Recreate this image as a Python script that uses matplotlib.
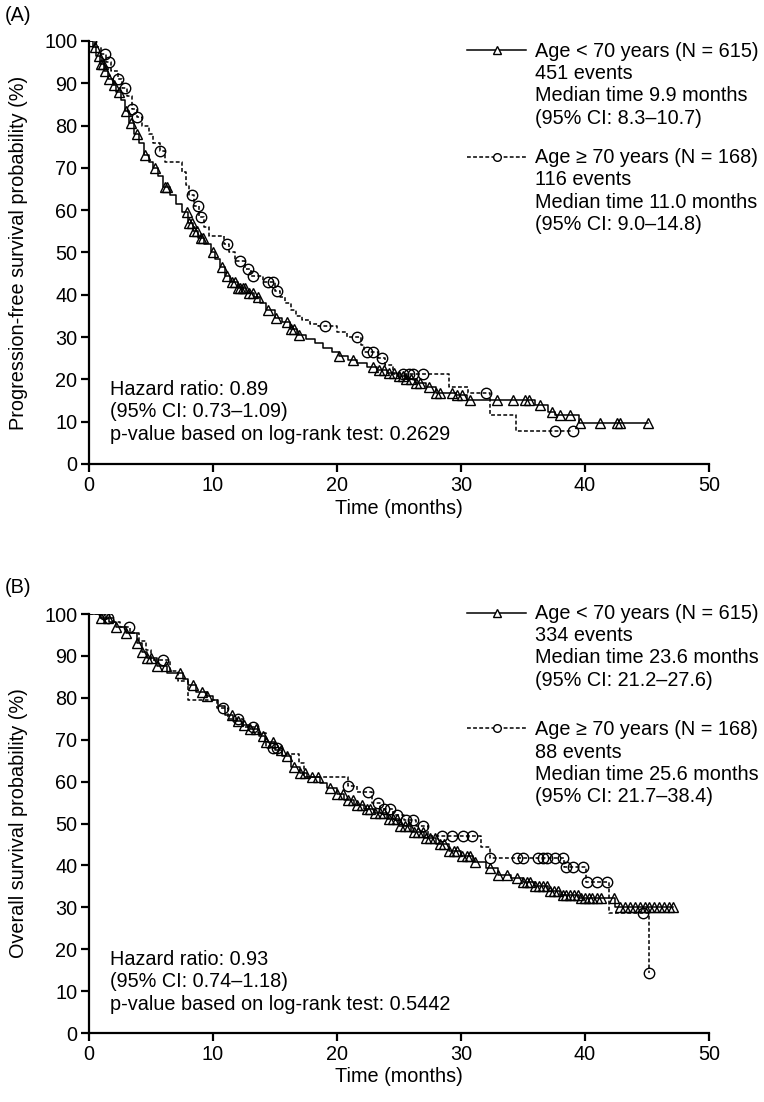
import matplotlib
matplotlib.use("Agg")
import matplotlib.pyplot as plt
import numpy as np

plt.rcParams['font.family'] = ['Liberation Sans', 'DejaVu Sans']
plt.rcParams['font.size'] = 14.3

# ---- (A) progression-free survival: step curves ----
pfs_young_t = [0, 0.3, 0.6, 0.9, 1.2, 1.5, 1.9, 2.2, 2.6, 2.9,
               3.2, 3.6, 4.0, 4.4, 4.8, 5.2, 5.6, 6.0, 6.5, 7.0,
               7.5, 8.0, 8.4, 8.8, 9.3, 9.8, 10.2, 10.6, 11.0, 11.4,
               12.0, 12.7, 13.3, 13.8, 14.3, 15.0, 15.6, 16.2, 16.8, 17.5,
               18.2, 18.9, 19.6, 20.2, 20.9, 21.6, 22.4, 23.2, 24.0, 24.8,
               25.6, 26.4, 27.2, 28.0, 29.6, 30.5, 36.0, 37.0, 37.6, 39.5, 45.1]
pfs_young_s = [100, 98.5, 96.5, 94.5, 93.0, 91.0, 89.5, 88.0, 86.0, 83.5,
               80.5, 78.0, 76.0, 73.0, 71.5, 70.0, 68.0, 65.5, 63.5, 61.5,
               59.5, 57.0, 55.0, 53.5, 52.0, 50.0, 48.5, 46.5, 44.5, 43.0,
               41.5, 40.5, 39.5, 38.0, 36.5, 34.5, 33.5, 32.0, 30.5, 29.5,
               28.5, 27.5, 26.5, 25.5, 24.5, 23.8, 23.0, 22.3, 21.5, 20.8,
               20.0, 19.2, 18.3, 16.8, 16.4, 15.2, 14.0, 12.3, 11.6, 9.6, 9.6]
pfs_young_cens = [0.5, 0.8, 1.0, 1.1, 1.3, 1.6, 2.0, 2.4, 3.0, 3.4, 3.9, 4.5, 5.3,
                  6.1, 6.3, 7.9, 8.1, 8.3, 8.5, 8.7, 9.0, 9.2, 10.0, 10.7, 11.1,
                  11.5, 11.8, 12.0, 12.2, 12.4, 12.6, 12.9, 13.2, 13.6, 14.4, 15.1,
                  16.0, 16.3, 16.5, 16.9, 20.2, 21.3, 22.9, 23.4, 23.8, 24.2, 24.6,
                  25.0, 25.3, 25.6, 26.0, 26.4, 26.7, 27.4, 28.0, 28.3, 29.3, 29.7,
                  30.1, 30.7, 32.9, 34.2, 35.2, 35.5, 36.4, 37.3, 38.0, 38.8, 39.6,
                  41.2, 42.6, 42.8, 45.1]

pfs_old_t = [0, 0.5, 1.0, 1.4, 1.8, 2.3, 2.7, 3.1, 3.5, 3.9,
             4.3, 4.8, 5.2, 5.7, 6.1, 7.5, 7.8, 8.1, 8.5, 8.9,
             9.3, 9.7, 10.9, 11.3, 11.8, 12.6, 13.1, 14.0, 15.0, 15.4,
             15.8, 16.3, 16.7, 17.2, 17.8, 18.5, 20.0, 20.8, 21.9, 22.2,
             23.3, 23.9, 24.5, 29.0, 30.6, 32.3, 34.4, 39.0]
pfs_old_s = [100, 98.5, 97.0, 95.0, 93.0, 91.0, 89.0, 87.0, 84.0, 82.0,
             80.0, 78.0, 76.0, 74.0, 71.5, 69.0, 66.0, 63.5, 61.0, 58.5,
             56.0, 54.0, 52.0, 50.0, 48.0, 46.0, 44.5, 43.0, 41.0, 39.5,
             38.0, 36.5, 35.0, 34.0, 33.0, 32.5, 31.3, 30.0, 28.2, 26.5,
             25.0, 23.5, 21.3, 18.2, 16.8, 11.6, 7.8, 7.8]
pfs_old_cens = [0.2, 1.3, 1.6, 2.3, 2.9, 3.5, 3.9, 5.7, 8.3, 8.8, 9.0, 11.1, 12.2,
                12.8, 13.2, 14.4, 14.8, 15.2, 19.0, 21.6, 22.4, 22.9, 23.6, 25.3,
                25.8, 26.1, 26.9, 32.0, 37.6, 39.0]

# ---- (B) overall survival ----
os_young_t = [0, 1.0, 1.6, 2.2, 3.0, 3.9, 4.3, 4.7, 5.5, 6.3,
              7.6, 8.0, 8.6, 9.5, 10.0, 10.4, 11.0, 11.6, 12.3, 13.0,
              13.7, 14.2, 15.0, 15.6, 16.3, 17.0, 17.6, 18.6, 19.2, 20.0,
              20.6, 21.4, 22.2, 23.1, 24.0, 25.0, 26.0, 27.0, 28.0, 29.0,
              30.0, 31.0, 32.0, 33.0, 34.0, 35.0, 36.0, 37.0, 38.0, 39.5,
              42.4, 47.1]
os_young_s = [100, 99.0, 98.0, 97.0, 95.5, 93.0, 91.0, 89.5, 87.5, 86.0,
              84.5, 83.0, 81.5, 80.5, 79.5, 78.0, 76.0, 74.5, 73.5, 72.5,
              71.0, 69.5, 67.5, 66.0, 63.5, 62.0, 61.0, 59.7, 58.5, 57.0,
              55.5, 54.5, 53.5, 52.5, 51.0, 49.5, 48.0, 46.5, 45.0, 43.5,
              42.3, 40.8, 39.3, 37.8, 37.0, 36.0, 35.0, 34.0, 33.0, 32.3,
              30.1, 30.1]
os_young_cens = [1.0, 1.5, 2.2, 3.0, 3.9, 4.3, 4.7, 5.0, 5.5, 6.2, 7.3, 8.4, 9.1,
                 9.5, 11.5, 12.0, 12.5, 13.0, 13.5, 14.0, 14.3, 14.8, 15.5, 16.0,
                 16.5, 17.0, 17.4, 18.0, 18.5, 19.4, 20.0, 20.5, 20.9, 21.3, 21.6,
                 22.0, 22.4, 22.7, 23.1, 23.5, 23.8, 24.2, 24.5, 24.8, 25.1, 25.5,
                 25.8, 26.2, 26.5, 26.9, 27.2, 27.5, 27.9, 28.3, 28.6, 29.0, 29.4,
                 29.7, 30.1, 30.5, 30.7, 31.1, 32.3, 33.0, 33.7, 34.5, 35.0, 35.3,
                 35.6, 36.0, 36.3, 36.6, 36.9, 37.2, 37.5, 37.8, 38.2, 38.5, 38.8,
                 39.1, 39.4, 39.7, 40.0, 40.3, 40.6, 41.0, 41.3, 42.3, 42.8, 43.2,
                 43.6, 44.0, 44.4, 44.8, 45.2, 45.6, 46.0, 46.4, 46.8, 47.1]

os_old_t = [0, 1.4, 2.0, 2.5, 3.3, 4.0, 4.6, 5.0, 6.5, 7.2,
            8.0, 10.3, 11.2, 12.4, 13.6, 14.3, 15.6, 16.9, 17.3, 20.9,
            21.6, 22.8, 23.5, 24.5, 25.4, 26.4, 27.3, 31.6, 32.3, 38.3,
            40.1, 41.9, 45.2]
os_old_s = [100, 99.0, 98.0, 97.0, 95.5, 93.5, 91.5, 89.0, 86.5, 84.0,
            79.5, 77.5, 75.0, 73.0, 71.5, 68.0, 66.5, 64.5, 61.0, 59.0,
            57.5, 55.0, 53.5, 52.0, 50.8, 49.5, 47.0, 44.5, 41.8, 39.6,
            36.0, 28.6, 14.3]
os_old_cens = [1.2, 1.5, 3.2, 6.0, 10.8, 12.0, 13.2, 14.8, 15.2, 20.9, 22.5, 23.3,
               23.8, 24.3, 24.8, 25.6, 26.1, 26.9, 28.5, 29.3, 30.2, 30.9, 32.3,
               34.5, 35.0, 36.2, 36.6, 36.9, 37.6, 38.2, 38.5, 39.0, 39.8, 40.2,
               41.0, 41.8, 44.7, 45.2]

legend_a = ["Age < 70 years (N = 615)\n451 events\nMedian time 9.9 months\n(95% CI: 8.3\u201310.7)",
            "Age \u2265 70 years (N = 168)\n116 events\nMedian time 11.0 months\n(95% CI: 9.0\u201314.8)"]
legend_b = ["Age < 70 years (N = 615)\n334 events\nMedian time 23.6 months\n(95% CI: 21.2\u201327.6)",
            "Age \u2265 70 years (N = 168)\n88 events\nMedian time 25.6 months\n(95% CI: 21.7\u201338.4)"]
hr_a = "Hazard ratio: 0.89\n(95% CI: 0.73\u20131.09)\np-value based on log-rank test: 0.2629"
hr_b = "Hazard ratio: 0.93\n(95% CI: 0.74\u20131.18)\np-value based on log-rank test: 0.5442"

DASH = (0, (2.5, 1.5))
SPACING = 1.22


def km_curve(ax, t, s, cens, marker, ls):
    t = np.asarray(t)
    s = np.asarray(s)
    ax.step(t, s, where="post", color="black", lw=1.1, linestyle=ls)
    idx = np.searchsorted(t, cens, side="right") - 1
    ax.plot(cens, s[idx], linestyle="none", marker=marker, ms=7.5,
            mfc="none", mec="black", mew=1.0)


def legend_entry(ax, y_line, y_text, marker, ls, label):
    ax.plot([0.610, 0.705], [y_line, y_line], transform=ax.transAxes, color="black",
            lw=1.1, linestyle=ls, clip_on=False)
    ax.plot([0.6575], [y_line], transform=ax.transAxes, marker=marker, ms=5.5,
            mfc="white", mec="black", mew=1.0, clip_on=False)
    ax.text(0.719, y_text, label, transform=ax.transAxes, ha="left", va="center",
            linespacing=SPACING)


def style_axes(ax, ylabel):
    ax.set_xlim(0, 50)
    ax.set_ylim(0, 100)
    ax.set_xticks(range(0, 51, 10))
    ax.set_yticks(range(0, 101, 10))
    for side in ("top", "right"):
        ax.spines[side].set_visible(False)
    for side in ("left", "bottom"):
        ax.spines[side].set_linewidth(1.6)
    ax.tick_params(direction="out", length=5.5, width=1.6, pad=3)
    ax.set_xlabel("Time (months)")
    ax.set_ylabel(ylabel)
    ax.yaxis.set_label_coords(-0.098, 0.5)
    ax.xaxis.set_label_coords(0.5, -0.082)


fig = plt.figure(figsize=(7.64, 11.02), dpi=100)
ax_a = fig.add_axes([0.1165, 0.579, 0.8115, 0.3838])
ax_b = fig.add_axes([0.1165, 0.0626, 0.8115, 0.3802])

km_curve(ax_a, pfs_young_t, pfs_young_s, pfs_young_cens, "^", "-")
km_curve(ax_a, pfs_old_t, pfs_old_s, pfs_old_cens, "o", DASH)
style_axes(ax_a, "Progression-free survival probability (%)")
legend_entry(ax_a, 0.979, 0.897, "^", "-", legend_a[0])
legend_entry(ax_a, 0.726, 0.645, "o", DASH, legend_a[1])
ax_a.text(0.034, 0.123, hr_a, transform=ax_a.transAxes, ha="left", va="center",
          linespacing=SPACING)

km_curve(ax_b, os_young_t, os_young_s, os_young_cens, "^", "-")
km_curve(ax_b, os_old_t, os_old_s, os_old_cens, "o", DASH)
style_axes(ax_b, "Overall survival probability (%)")
legend_entry(ax_b, 1.003, 0.922, "^", "-", legend_b[0])
legend_entry(ax_b, 0.728, 0.644, "o", DASH, legend_b[1])
ax_b.text(0.034, 0.122, hr_b, transform=ax_b.transAxes, ha="left", va="center",
          linespacing=SPACING)

fig.text(0.006, 0.986, "(A)", ha="left", va="center")
fig.text(0.006, 0.467, "(B)", ha="left", va="center")

fig.savefig("out.png", dpi=100)
